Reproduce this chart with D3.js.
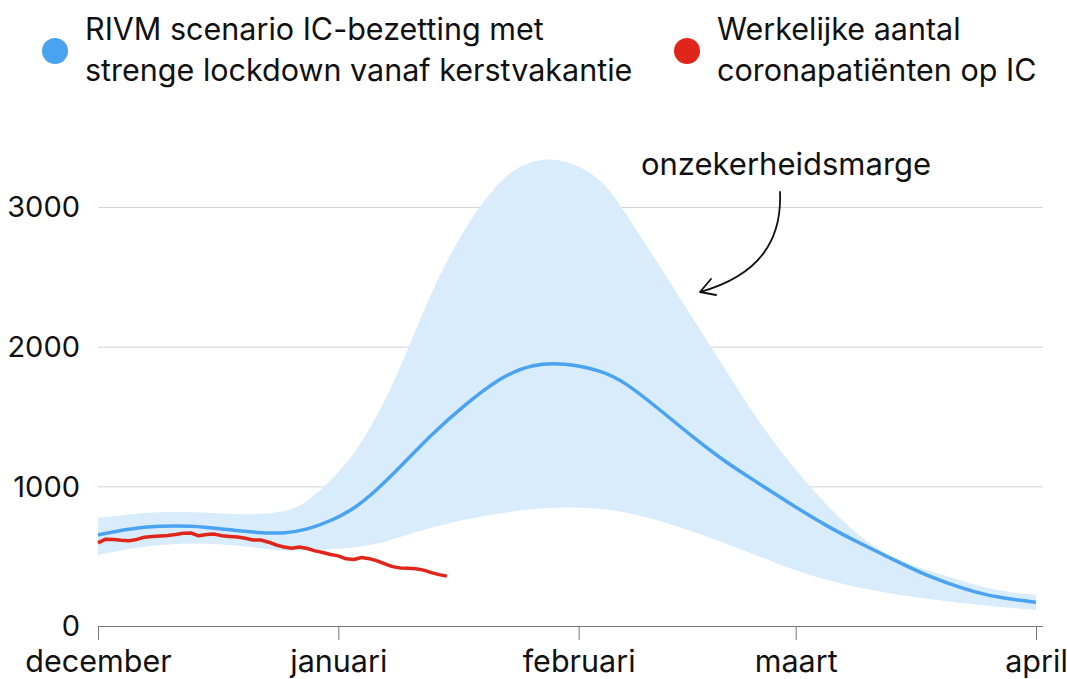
<!DOCTYPE html>
<html lang="nl">
<head>
<meta charset="UTF-8" />
<title>IC-bezetting scenario RIVM</title>
<style>
  body { margin: 0; background: #fff; }
  svg text { font-family: Inter, "Noto Sans", sans-serif; fill: #111; }
  .grid line { stroke: #d4d4d4; stroke-width: 1; }
  .grid .domain { display: none; }
</style>
</head>
<body>
<svg width="1067" height="679"></svg>
<script src="https://cdn.jsdelivr.net/npm/d3@7/dist/d3.min.js"></script>
<script>
// RIVM scenario: mediaan en onzekerheidsmarge
var scenarioDates = ["2020-12-01","2020-12-05","2020-12-09","2020-12-13","2020-12-17","2020-12-21",
  "2020-12-25","2020-12-28","2020-12-31","2021-01-03","2021-01-06","2021-01-09","2021-01-13",
  "2021-01-17","2021-01-22","2021-01-26","2021-01-30","2021-02-04","2021-02-07","2021-02-11",
  "2021-02-16","2021-02-20","2021-02-24","2021-02-28","2021-03-05","2021-03-09","2021-03-13",
  "2021-03-18","2021-03-23","2021-03-27","2021-04-01"];
var scenarioMid  = [652, 697, 717, 718, 695, 670, 660, 690, 752, 835, 975, 1139, 1372, 1570, 1786,
  1875, 1886, 1830, 1745, 1570, 1340, 1172, 1030, 885, 715, 600, 492, 355, 260, 203, 170];
var scenarioHigh = [774, 800, 817, 817, 805, 797, 812, 880, 1040, 1220, 1500, 1840, 2400, 2830, 3220,
  3340, 3350, 3210, 2960, 2620, 2180, 1830, 1480, 1180, 860, 650, 495, 395, 315, 250, 222];
var scenarioLow  = [509, 555, 580, 595, 585, 565, 535, 540, 548, 560, 585, 640, 705, 760, 810,
  838, 853, 842, 815, 765, 670, 590, 505, 415, 330, 275, 235, 195, 160, 138, 115];

// werkelijke IC-bezetting, dagelijks vanaf 1 december
var actualStart = "2020-12-01";
var actualValues = [595, 622, 620, 614, 610, 620, 636, 640, 644, 648, 655, 664, 666, 646, 655, 658,
  646, 641, 637, 628, 616, 616, 600, 580, 565, 556, 566, 555, 538, 526, 512, 502, 481, 476, 490,
  482, 466, 445, 425, 416, 413, 410, 400, 382, 368, 357];

var monthTicks = ["2020-12-01","2021-01-01","2021-02-01","2021-03-01","2021-04-01"];
var monthLabels = ["december","januari","februari","maart","april"];
var yTicks = [0, 1000, 2000, 3000];

var legendItems = [
  {color: "#4aa3f0", lines: ["RIVM scenario IC-bezetting met", "strenge lockdown vanaf kerstvakantie"]},
  {color: "#e0251b", lines: ["Werkelijke aantal", "coronapatiënten op IC"]}
];

var parse = d3.timeParse("%Y-%m-%d");
var svg = d3.select("svg");

var x = d3.scaleTime()
    .domain([parse("2020-12-01"), parse("2021-04-01")])
    .range([98, 1036]);
var y = d3.scaleLinear().domain([0, 3000]).range([626, 207]);

var scenario = scenarioDates.map(function(d, i) {
  return {date: parse(d), mid: scenarioMid[i], high: scenarioHigh[i], low: scenarioLow[i]};
});
var actual = actualValues.map(function(v, i) {
  return {date: d3.timeDay.offset(parse(actualStart), i), value: v};
});

// gridlijnen
svg.append("g")
    .attr("class", "grid")
    .attr("transform", "translate(98,0)")
    .call(d3.axisLeft(y).tickValues(yTicks.slice(1)).tickSize(-945).tickFormat(""));

// y labels
svg.selectAll(".ylab")
    .data(yTicks)
  .enter().append("text")
    .attr("class", "ylab")
    .attr("x", 80)
    .attr("y", function(d) { return y(d); })
    .attr("dy", "0.36em")
    .attr("text-anchor", "end")
    .style("font-size", "29px")
    .text(function(d) { return d; });

// onzekerheidsmarge
svg.append("path")
    .datum(scenario)
    .attr("fill", "#d8ecfb")
    .attr("d", d3.area()
      .curve(d3.curveBasis)
      .x(function(d) { return x(d.date); })
      .y0(function(d) { return y(d.low); })
      .y1(function(d) { return y(d.high); }));

svg.append("path")
    .datum(scenario)
    .attr("fill", "none")
    .attr("stroke", "#4aa3f0")
    .attr("stroke-width", 3.5)
    .attr("d", d3.line()
      .curve(d3.curveBasis)
      .x(function(d) { return x(d.date); })
      .y(function(d) { return y(d.mid); }));

svg.append("path")
    .datum(actual)
    .attr("fill", "none")
    .attr("stroke", "#e0251b")
    .attr("stroke-width", 3.5)
    .attr("stroke-linejoin", "round")
    .attr("d", d3.line()
      .x(function(d) { return x(d.date); })
      .y(function(d) { return y(d.value); }));

// x-as
var xAxis = svg.append("g")
    .attr("transform", "translate(0," + y(0) + ")")
    .call(d3.axisBottom(x)
      .tickValues(monthTicks.map(parse))
      .tickSize(14)
      .tickFormat(function(d, i) { return monthLabels[i]; }));
xAxis.select(".domain").attr("stroke", "#777").attr("d", "M98,0.5H1043");
xAxis.selectAll(".tick line").attr("stroke", "#777");
xAxis.selectAll(".tick text")
    .attr("y", 46)
    .attr("dy", 0)
    .style("font-size", "30.5px")
    .style("font-family", "Inter, 'Noto Sans', sans-serif")
    .attr("fill", "#111");

// annotatie
svg.append("text")
    .attr("x", 786)
    .attr("y", 175)
    .attr("text-anchor", "middle")
    .style("font-size", "31px")
    .text("onzekerheidsmarge");

svg.append("path")
    .attr("d", "M780,192 C782,240 760,275 700,292 M700,292 L711,279 M700,292 L716,295")
    .attr("fill", "none")
    .attr("stroke", "#111")
    .attr("stroke-width", 1.8)
    .attr("stroke-linecap", "round");

// legenda
var legendX = [55, 687];
var leg = svg.selectAll(".legend")
    .data(legendItems)
  .enter().append("g")
    .attr("class", "legend")
    .attr("transform", function(d, i) { return "translate(" + legendX[i] + ",0)"; });
leg.append("circle")
    .attr("cx", 0)
    .attr("cy", 51)
    .attr("r", 13)
    .attr("fill", function(d) { return d.color; });
leg.append("text")
    .attr("x", 30)
    .attr("y", 40)
    .style("font-size", "30.5px")
    .selectAll("tspan")
    .data(function(d) { return d.lines; })
  .enter().append("tspan")
    .attr("x", 30)
    .attr("dy", function(d, i) { return i ? 41 : 0; })
    .text(function(d) { return d; });
</script>
</body>
</html>
